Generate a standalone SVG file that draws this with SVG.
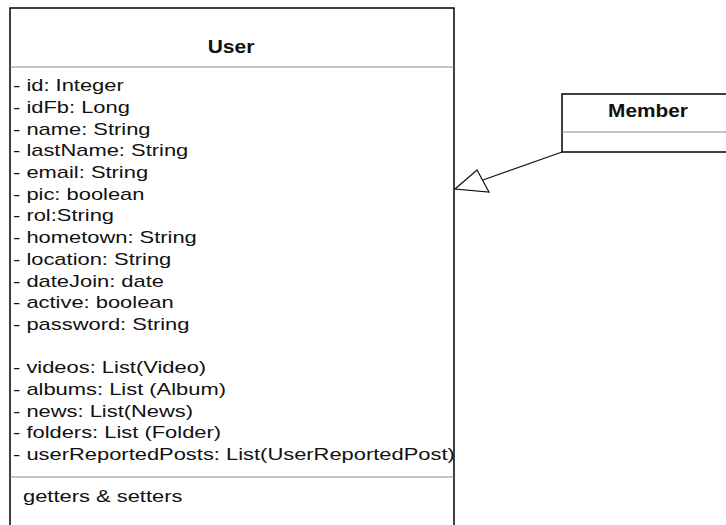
<svg xmlns="http://www.w3.org/2000/svg" width="726" height="525" viewBox="0 0 726 525">
  <style>
    .box { fill: #ffffff; stroke: #000000; stroke-width: 1.5; }
    .sep { stroke: #8a8a8a; stroke-width: 1.2; }
    .title { font-family: "Liberation Sans", Arial, sans-serif; font-size: 17.5px; font-weight: bold; fill: #111; text-anchor: middle; }
    .attr { font-family: "Liberation Sans", Arial, sans-serif; font-size: 16px; fill: #111; }
    .edge { fill: none; stroke: #111; stroke-width: 1.2; }
  </style>
  <rect width="726" height="525" fill="#ffffff"/>

  <g id="user">
    <rect class="box" x="10" y="8" width="444" height="530"/>
    <line class="sep" x1="10" y1="67" x2="454" y2="67"/>
    <line class="sep" x1="10" y1="477" x2="454" y2="477"/>
    <text class="title" transform="matrix(1.2 0 0 1 231 53)">User</text>
    <!-- attribute lines: the label font is drawn wide (x-scale 1.37) -->
    <text class="attr" transform="matrix(1.37 0 0 1 13 91)">- id: Integer</text>
    <text class="attr" transform="matrix(1.37 0 0 1 13 112.5)">- idFb: Long</text>
    <text class="attr" transform="matrix(1.37 0 0 1 13 134.5)">- name: String</text>
    <text class="attr" transform="matrix(1.37 0 0 1 13 156)">- lastName: String</text>
    <text class="attr" transform="matrix(1.37 0 0 1 13 178)">- email: String</text>
    <text class="attr" transform="matrix(1.37 0 0 1 13 199.5)">- pic: boolean</text>
    <text class="attr" transform="matrix(1.37 0 0 1 13 221)">- rol:String</text>
    <text class="attr" transform="matrix(1.37 0 0 1 13 243)">- hometown: String</text>
    <text class="attr" transform="matrix(1.37 0 0 1 13 264.5)">- location: String</text>
    <text class="attr" transform="matrix(1.37 0 0 1 13 286.5)">- dateJoin: date</text>
    <text class="attr" transform="matrix(1.37 0 0 1 13 308)">- active: boolean</text>
    <text class="attr" transform="matrix(1.37 0 0 1 13 330)">- password: String</text>
    <text class="attr" transform="matrix(1.37 0 0 1 13 373)">- videos: List(Video)</text>
    <text class="attr" transform="matrix(1.37 0 0 1 13 395)">- albums: List (Album)</text>
    <text class="attr" transform="matrix(1.37 0 0 1 13 416.5)">- news: List(News)</text>
    <text class="attr" transform="matrix(1.37 0 0 1 13 438)">- folders: List (Folder)</text>
    <text class="attr" transform="matrix(1.37 0 0 1 13 460)">- userReportedPosts: List(UserReportedPost)</text>
    <text class="attr" transform="matrix(1.37 0 0 1 23 502)">getters &amp; setters</text>
  </g>

  <g id="member">
    <rect class="box" x="562" y="94" width="180" height="58"/>
    <line class="sep" x1="562" y1="132" x2="742" y2="132"/>
    <text class="title" transform="matrix(1.19 0 0 1 648 116.5)">Member</text>
  </g>

  <g id="connectors">
    <line class="edge" x1="562" y1="152" x2="483" y2="180"/>
    <polygon class="edge" points="455,189 477,170 489,192"/>
  </g>
</svg>
